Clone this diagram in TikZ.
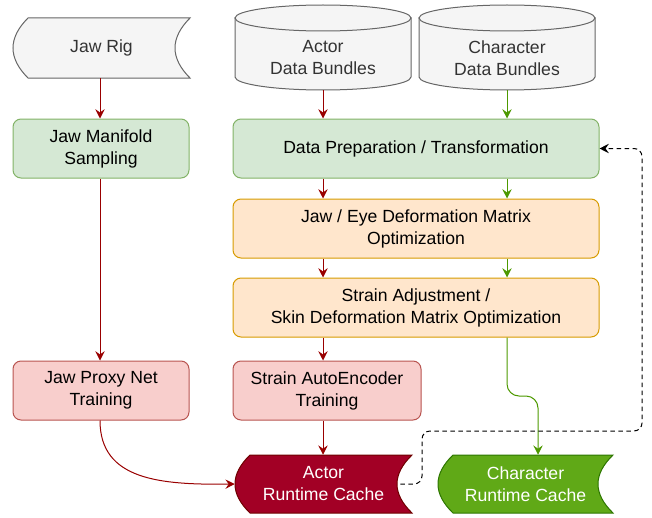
\documentclass[tikz,border=0pt]{standalone}
\usepackage{fontspec}
\setmainfont{Liberation Sans}
\usetikzlibrary{arrows.meta}

\definecolor{grayfill}{HTML}{F5F5F5}
\definecolor{grayline}{HTML}{666666}
\definecolor{graytext}{HTML}{333333}
\definecolor{greenfill}{HTML}{D5E8D4}
\definecolor{greenline}{HTML}{82B366}
\definecolor{orangefill}{HTML}{FFE6CC}
\definecolor{orangeline}{HTML}{D79B00}
\definecolor{pinkfill}{HTML}{F8CECC}
\definecolor{pinkline}{HTML}{B85450}
\definecolor{crimsonfill}{HTML}{A20025}
\definecolor{crimsonline}{HTML}{6F0000}
\definecolor{leaffill}{HTML}{60A917}
\definecolor{leafline}{HTML}{2D7600}
\definecolor{flowred}{HTML}{990000}
\definecolor{flowgreen}{HTML}{4D9900}

% stored-data outline: convex left side, concave right side (quadratic sides as cubics)
\newcommand{\storeddata}[5]{%
  \path[#1] ({#2+15},#3) -- (#4,#3)
    .. controls ({#4-20},{#3+(#5-#3)/3}) and ({#4-20},{#5-(#5-#3)/3}) .. (#4,#5)
    -- ({#2+15},#5)
    .. controls ({#2-5},{#5-(#5-#3)/3}) and ({#2-5},{#3+(#5-#3)/3}) .. ({#2+15},#3) -- cycle;}

% cylinder: x0, x1, top, bottom (radius of the caps is 13)
\newcommand{\drumshape}[4]{%
  \path[drumstyle] (#1,{#3+13}) -- (#1,{#4-13})
    .. controls (#1,{#4-13+7.18}) and ({(#1+#2)/2-0.5523*(#2-#1)/2},#4) .. ({(#1+#2)/2},#4)
    .. controls ({(#1+#2)/2+0.5523*(#2-#1)/2},#4) and (#2,{#4-13+7.18}) .. (#2,{#4-13})
    -- (#2,{#3+13}) -- cycle;
  \path[drumstyle] ({(#1+#2)/2},{#3+13}) ellipse [x radius={(#2-#1)/2}, y radius=13];}

\begin{document}
\begin{tikzpicture}[x=0.75pt,y=-0.75pt,
  every node/.style={font=\fontsize{13.2}{16.5}\selectfont, align=center, inner sep=0pt},
  box/.style={draw, line width=0.75pt, rounded corners=6pt, minimum height=44.25pt},
  greenbox/.style={box, fill=greenfill, draw=greenline},
  orangebox/.style={box, fill=orangefill, draw=orangeline},
  pinkbox/.style={box, fill=pinkfill, draw=pinkline},
  drumstyle/.style={fill=grayfill, draw=grayline, line width=0.75pt},
  graystore/.style={fill=grayfill, draw=grayline, line width=0.75pt},
  redstore/.style={fill=crimsonfill, draw=crimsonline, line width=0.75pt},
  greenstore/.style={fill=leaffill, draw=leafline, line width=0.75pt},
  tip/.style={-{Stealth[length=7pt,width=7pt,inset=2.5pt]}},
  redflow/.style={draw=flowred, line width=0.75pt, tip},
  greenflow/.style={draw=flowgreen, line width=0.75pt, tip},
  feedback/.style={draw=black, line width=0.75pt, dash pattern=on 3.5pt off 2.5pt, rounded corners=6pt, tip}]

\useasboundingbox (0,0) rectangle (652,517);

% ---- stores and data sources
\storeddata{graystore}{13}{18}{190}{78}
\node[text=graytext, minimum width=132.75pt, minimum height=45pt] (jawrig) at (101.5,48) {Jaw Rig};

\drumshape{235}{411}{5}{90}
\node[text=graytext, minimum width=132pt, minimum height=48pt] (actordb) at (323,58) {Actor\\Data Bundles};
\drumshape{419}{595}{5}{90}
\node[text=graytext, minimum width=132pt, minimum height=48pt] (chardb) at (507,58) {Character\\Data Bundles};

% ---- processing steps
\node[greenbox, minimum width=132pt] (jawman) at (101,148.5) {Jaw Manifold\\Sampling};
\node[pinkbox, minimum width=132pt] (jawproxy) at (101,390.5) {Jaw Proxy Net\\Training};

\node[greenbox, minimum width=274.5pt] (dataprep) at (416,148.5) {Data Preparation / Transformation};
\node[orangebox, minimum width=274.5pt] (jaweye) at (416,228.5) {Jaw / Eye Deformation Matrix\\Optimization};
\node[orangebox, minimum width=274.5pt] (strainadj) at (416,307.5) {Strain Adjustment /\\Skin Deformation Matrix Optimization};
\node[pinkbox, minimum width=141pt] (strainae) at (327,390.5) {Strain AutoEncoder\\Training};

% ---- runtime caches
\storeddata{redstore}{235}{455}{412}{513}
\node[text=white, minimum width=132.75pt, minimum height=43.5pt] (actorcache) at (323.5,484) {Actor\\Runtime Cache};
\storeddata{greenstore}{438}{455}{613}{513}
\node[text=white, minimum width=131.25pt, minimum height=43.5pt] (charcache) at (525.5,484) {Character\\Runtime Cache};

% ---- jaw column
\draw[redflow] (jawrig.south -| 100,0) -- (jawman.north -| 100,0);
\draw[redflow] (jawman.south -| 100,0) -- (jawproxy.north -| 100,0);
\draw[redflow] (jawproxy.south -| 100,0) .. controls (100,480) and (160,485) .. (actorcache.west);

% ---- actor column
\draw[redflow] (actordb.south) -- (dataprep.north -| actordb.south);
\draw[redflow] (dataprep.south -| actordb.south) -- (jaweye.north -| actordb.south);
\draw[redflow] (jaweye.south -| actordb.south) -- (strainadj.north -| actordb.south);
\draw[redflow] (strainadj.south -| actordb.south) -- (strainae.north -| actordb.south);
\draw[redflow] (strainae.south -| actordb.south) -- (actorcache.north -| actordb.south);

% ---- character column
\draw[greenflow] (chardb.south) -- (dataprep.north -| chardb.south);
\draw[greenflow] (dataprep.south -| chardb.south) -- (jaweye.north -| chardb.south);
\draw[greenflow] (jaweye.south -| chardb.south) -- (strainadj.north -| chardb.south);
\coordinate (jog) at (538,396);
\draw[greenflow, rounded corners=9pt] (strainadj.south -| chardb.south) |- (jog) -- (charcache.north -| jog);

% ---- feedback loop
\coordinate (loopa) at (422,431);
\coordinate (loopb) at (642,148.5);
\draw[feedback] ([xshift=-9pt]actorcache.east) -| (loopa) -| (loopb) -- (dataprep.east);

\end{tikzpicture}
\end{document}
